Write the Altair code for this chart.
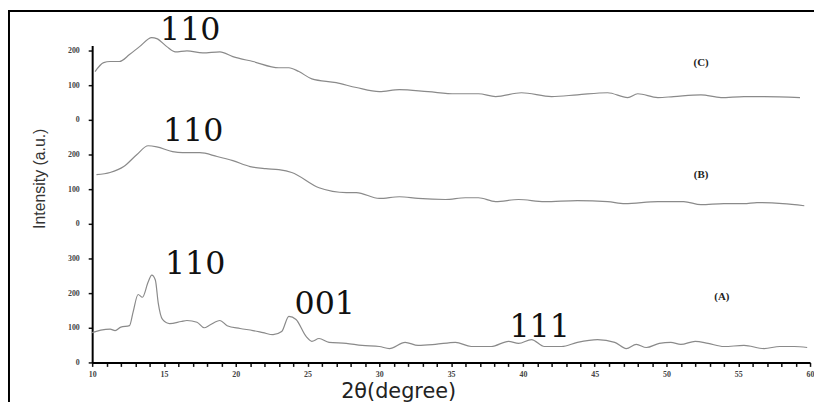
import altair as alt
import pandas as pd

# ---- data ----
xA = [10.0, 10.6, 11.25, 11.6, 12.0, 12.6, 12.85, 13.2, 13.5, 13.9, 14.15, 14.4, 14.6, 14.9, 15.4,
      16.2, 16.6, 17.3, 17.8, 18.2, 18.9, 19.4, 20.3, 21.2, 21.9, 22.6, 23.2, 23.7, 24.2, 24.9,
      25.3, 25.8, 26.5, 27.7, 28.8, 30.0, 30.7, 31.8, 32.7, 33.9, 35.3, 36.4, 37.8, 39.0, 39.7,
      40.6, 41.5, 42.7, 43.8, 45.2, 46.4, 47.2, 47.9, 48.6, 49.5, 50.3, 51.0, 52.0, 52.9, 54.0,
      55.4, 56.8, 57.9, 58.9, 59.8]
yA = [86, 93, 96, 92, 102, 106, 145, 196, 188, 232, 252, 238, 172, 124, 112,
      118, 121, 116, 100, 108, 121, 106, 98, 92, 86, 80, 89, 133, 124, 75,
      61, 69, 58, 55, 49, 46, 40, 58, 49, 52, 58, 46, 46, 61, 55,
      66, 46, 46, 58, 66, 58, 40, 52, 43, 55, 58, 52, 61, 55, 46,
      49, 40, 46, 46, 43]

xB = [10.3, 11.25, 12.2, 13.1, 13.9, 14.5, 15.6, 16.3, 17.5, 18.7, 19.8, 21.0, 22.1, 23.0, 23.9,
      25.8, 27.7, 28.4, 30.0, 31.4, 32.7, 34.6, 36.0, 36.9, 38.1, 39.7, 41.5, 43.8, 45.9, 47.1,
      49.4, 51.2, 52.4, 54.0, 55.4, 56.3, 58.1, 59.6]
yB = [142, 148, 165, 199, 225, 222, 208, 205, 205, 194, 182, 165, 159, 156, 148,
      104, 90, 90, 73, 78, 73, 70, 75, 75, 64, 70, 64, 67, 64, 58,
      64, 64, 55, 58, 58, 61, 58, 52]

xC = [10.2, 10.8, 11.25, 11.9, 12.6, 13.3, 14.15, 14.5, 15.2, 15.8, 16.6, 17.7, 18.9, 19.8, 21.2,
      23.0, 23.7, 24.4, 25.3, 27.0, 28.4, 30.0, 31.4, 33.4, 35.3, 36.9, 38.1, 39.9, 42.0, 43.8,
      45.9, 47.3, 48.0, 49.4, 50.5, 52.4, 53.8, 55.4, 56.8, 59.3]
yC = [139, 165, 168, 168, 188, 211, 237, 234, 211, 196, 199, 193, 196, 182, 168,
      150, 150, 139, 118, 107, 93, 81, 87, 81, 75, 75, 67, 78, 67, 72,
      78, 64, 75, 64, 67, 72, 64, 67, 67, 64]

offsets = {"A": 0, "B": 400, "C": 700}

peak_labels = ["110", "110", "110", "001", "111"]
peak_x = [16.83, 17.03, 17.17, 26.2, 41.17]
peak_y = [931, 640, 254, 140, 74]

sample_labels = ["(C)", "(B)", "(A)"]
sample_x = [52.41, 52.41, 53.86]
sample_y = [863, 540, 189]

y_ticks = [0, 100, 200, 300, 400, 500, 600, 700, 800, 900]
x_ticks = list(range(10, 61))

# ---- tables ----
rows = []
for name, xs, ys in (("A", xA, yA), ("B", xB, yB), ("C", xC, yC)):
    for i, (a, b) in enumerate(zip(xs, ys)):
        rows.append({"series": name, "x": a, "y": b + offsets[name], "i": i})
df = pd.DataFrame(rows)

peaks = pd.DataFrame({"label": peak_labels, "x": peak_x, "y": peak_y})
samples = pd.DataFrame({"label": sample_labels, "x": sample_x, "y": sample_y})

xscale = alt.Scale(domain=[10, 60], nice=False, zero=False)
yscale = alt.Scale(domain=[0, 914], nice=False, zero=False)


def x_axis():
    return alt.Axis(
        values=x_ticks,
        labelExpr="datum.value % 5 == 0 ? datum.label : ''",
        labelOverlap=False, labelFlush=False,
        grid=False, domainColor="black", domainWidth=2,
        ticks=True, tickColor="#111", tickSize=4, tickWidth=1.5,
        labelFont="Liberation Serif", labelFontWeight="bold", labelFontSize=8, labelColor="#444",
        labelPadding=4,
        title="2θ(degree)", titleFont="DejaVu Sans", titleFontSize=21, titleFontWeight="normal",
        titleColor="#222", titleX=309, titleY=35, titleBaseline="alphabetic", titleAlign="center")


def y_axis():
    return alt.Axis(
        values=y_ticks,
        labelExpr="datum.value >= 700 ? format(datum.value - 700, 'd') : (datum.value >= 400 ? format(datum.value - 400, 'd') : datum.label)",
        labelOverlap=False, labelFlush=False,
        grid=False, domainColor="black", domainWidth=2,
        ticks=True, tickColor="#111", tickSize=4, tickWidth=1.5,
        labelFont="Liberation Serif", labelFontWeight="bold", labelFontSize=8, labelColor="#444",
        labelPadding=9,
        title="Intensity (a.u.)", titleFont="Liberation Sans", titleFontSize=16,
        titleFontWeight="normal", titleColor="#333", titleX=-53, titleY=134,
        titleAngle=270, titleAlign="center", titleBaseline="middle")


lines = alt.Chart(df).mark_line(color="#8a8a8a", strokeWidth=1.2, interpolate="monotone").encode(
    x=alt.X("x:Q", scale=xscale, axis=x_axis()),
    y=alt.Y("y:Q", scale=yscale, axis=y_axis()),
    detail="series:N",
    order="i:Q",
)

peak_text = alt.Chart(peaks).mark_text(
    font="DejaVu Serif", fontSize=32, align="center", baseline="alphabetic", color="#111"
).encode(x=alt.X("x:Q", scale=xscale, axis=x_axis()),
         y=alt.Y("y:Q", scale=yscale, axis=y_axis()), text="label:N")

sample_text = alt.Chart(samples).mark_text(
    font="Liberation Serif", fontSize=11, fontWeight="bold", align="center", baseline="middle", color="#222"
).encode(x=alt.X("x:Q", scale=xscale, axis=x_axis()),
         y=alt.Y("y:Q", scale=yscale, axis=y_axis()), text="label:N")

one = pd.DataFrame({"k": [0]})
frame_left = alt.Chart(one).mark_rule(color="black", strokeWidth=2).encode(
    x=alt.value(-84), y=alt.value(-36), y2=alt.value(362))
frame_top = alt.Chart(one).mark_rule(color="black", strokeWidth=2).encode(
    x=alt.value(-85), x2=alt.value(729), y=alt.value(-35))

chart = alt.layer(lines, peak_text, sample_text, frame_left, frame_top).properties(
    width=725, height=320,
    autosize=alt.AutoSizeParams(type="none"),
    padding={"left": 85, "top": 36, "right": 4, "bottom": 38},
).configure_view(stroke=None).configure_axis(labelOverlap=False)

chart.save("out.html", embed_options={"renderer": "svg", "actions": False})
